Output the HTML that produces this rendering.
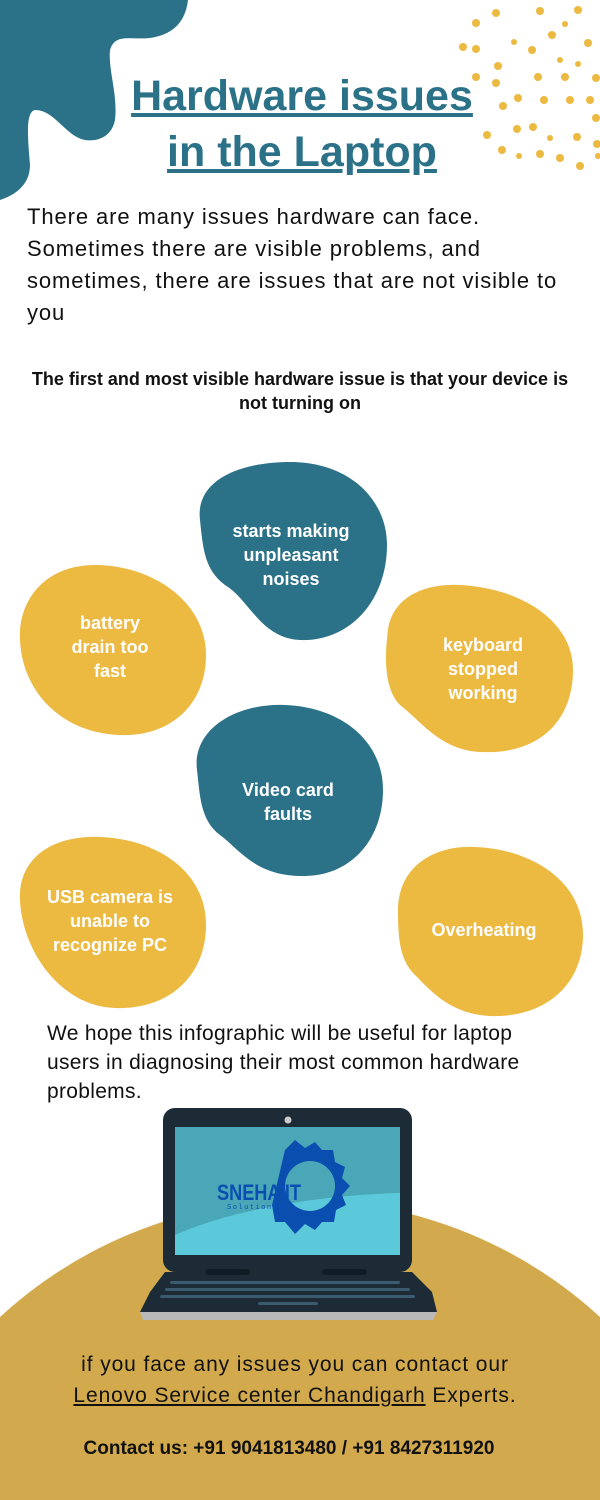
<!DOCTYPE html>
<html><head><meta charset="utf-8"><style>
html,body{margin:0;width:600px;height:1500px;overflow:hidden;background:#fff;font-family:"Liberation Sans",sans-serif;}
body{position:relative}
svg{position:absolute;left:0;top:0}
.t{position:absolute;color:#111;white-space:nowrap}
.b{position:absolute;color:#fff;font-weight:bold;font-size:18px;text-align:center;line-height:24px;width:190px;white-space:nowrap}
</style></head><body>
<svg width="600" height="1500" viewBox="0 0 600 1500">
<path d="M0 0 H188 C185 25 170 35 150 38 C130 40 115 33 110 50 C108 70 118 95 115 120 C112 135 100 142 85 140 C65 136 55 110 35 110 C25 112 28 140 30 165 C30 185 15 195 0 200 Z" fill="#2b7288"/>
<g fill="#ecb941">
<circle cx="476" cy="23" r="4"/><circle cx="496" cy="13" r="4"/><circle cx="540" cy="11" r="4"/><circle cx="578" cy="10" r="4"/><circle cx="565" cy="24" r="3"/>
<circle cx="463" cy="47" r="4"/><circle cx="476" cy="49" r="4"/><circle cx="514" cy="42" r="3"/><circle cx="552" cy="35" r="4"/><circle cx="588" cy="43" r="4"/>
<circle cx="498" cy="66" r="4"/><circle cx="532" cy="50" r="4"/><circle cx="560" cy="60" r="3"/><circle cx="578" cy="64" r="3"/><circle cx="596" cy="78" r="4"/>
<circle cx="476" cy="77" r="4"/><circle cx="496" cy="83" r="4"/><circle cx="538" cy="77" r="4"/><circle cx="565" cy="77" r="4"/><circle cx="590" cy="100" r="4"/>
<circle cx="503" cy="106" r="4"/><circle cx="518" cy="98" r="4"/><circle cx="544" cy="100" r="4"/><circle cx="570" cy="100" r="4"/><circle cx="596" cy="118" r="4"/>
<circle cx="487" cy="135" r="4"/><circle cx="517" cy="129" r="4"/><circle cx="533" cy="127" r="4"/><circle cx="550" cy="138" r="3"/><circle cx="577" cy="137" r="4"/><circle cx="597" cy="144" r="4"/>
<circle cx="502" cy="150" r="4"/><circle cx="519" cy="156" r="3"/><circle cx="540" cy="154" r="4"/><circle cx="560" cy="158" r="4"/><circle cx="580" cy="166" r="4"/><circle cx="598" cy="156" r="3"/>
</g>
<circle cx="300" cy="1643" r="443" fill="#d2aa4d"/>
<path d="M200 520 C195 480 240 462 290 462 C350 462 387 500 387 545 C387 600 350 642 300 640 C260 638 250 600 225 585 C205 570 203 550 200 520Z" fill="#2b7288"/>
<path d="M20 640 C18 600 45 565 95 565 C150 565 206 600 206 655 C206 705 170 737 120 735 C60 733 22 690 20 640Z" fill="#ecb941"/>
<path d="M388 630 C392 600 420 583 460 585 C520 588 573 620 573 670 C573 720 540 755 480 752 C440 750 420 720 400 705 C385 690 384 660 388 630Z" fill="#ecb941"/>
<path d="M197 770 C192 730 235 703 285 705 C340 707 383 740 383 790 C383 840 350 878 300 876 C255 875 240 850 220 835 C200 820 200 795 197 770Z" fill="#2b7288"/>
<path d="M20 900 C18 860 50 835 100 837 C155 839 206 870 206 925 C206 975 170 1010 115 1008 C60 1006 22 950 20 900Z" fill="#ecb941"/>
<path d="M398 910 C398 870 430 845 475 847 C530 849 583 880 583 935 C583 985 545 1018 490 1016 C450 1014 430 990 415 975 C400 960 398 940 398 910Z" fill="#ecb941"/>
<path d="M150 1292 L165 1272 H412 L432 1292 L437 1312 H140 Z" fill="#1c2b36"/>
<path d="M140 1312 H437 L433 1320 H143 Z" fill="#b9b9b9"/>
<g fill="#3a5c6e">
<rect x="170" y="1281" width="230" height="3" rx="1.5"/><rect x="165" y="1288" width="245" height="3" rx="1.5"/><rect x="160" y="1295" width="255" height="3" rx="1.5"/><rect x="258" y="1302" width="60" height="3" rx="1.5"/>
</g>
<rect x="163" y="1108" width="249" height="164" rx="12" fill="#1c2b36"/>
<rect x="205" y="1269" width="45" height="6" rx="3" fill="#111d25"/><rect x="322" y="1269" width="45" height="6" rx="3" fill="#111d25"/>
<circle cx="288" cy="1120" r="3.5" fill="#ccc"/>
<rect x="175" y="1127" width="225" height="128" fill="#4aa7b8"/>
<path d="M175 1235 C230 1210 320 1195 400 1193 V1255 H175Z" fill="#5bc9d9"/>
<path d="M285 1150 L295 1140 L305 1148 L315 1142 L322 1150 L333 1150 L335 1162 L345 1167 L342 1178 L350 1186 L342 1195 L346 1205 L336 1210 L334 1222 L322 1222 L315 1230 L305 1224 L295 1234 L285 1222 L275 1222 L272 1205 Z M310 1161 A25 25 0 1 0 310.1 1161Z" fill="#0a4fb0" fill-rule="evenodd"/>
<text x="217" y="1200" font-family="Liberation Sans, sans-serif" font-weight="bold" font-size="22" fill="#0a4fb0" textLength="84" lengthAdjust="spacingAndGlyphs">SNEHA IT</text>
<text x="227" y="1209" font-family="Liberation Mono,monospace" font-size="7" fill="#0a4fb0" letter-spacing="1.5">Solutions</text>
</svg>
<div class="t" style="left:0;width:600px;top:68px;text-align:center;font-size:43px;font-weight:bold;color:#2b7288;line-height:56px;text-decoration:underline;padding-left:2px"> Hardware issues<br>in the Laptop</div>
<div class="t" style="left:27px;top:201px;font-size:22px;line-height:32px;letter-spacing:0.9px">There are many issues hardware can face.<br>Sometimes there are visible problems, and<br>sometimes, there are issues that are not visible to<br>you</div>
<div class="t" style="left:0;width:600px;top:367px;text-align:center;font-size:18px;font-weight:bold;line-height:24px;letter-spacing:0px">The first and most visible hardware issue is that your device is<br>not turning on</div>
<div class="b" style="left:196px;top:519px">starts making<br>unpleasant<br>noises</div>
<div class="b" style="left:15px;top:611px">battery<br>drain too<br>fast</div>
<div class="b" style="left:388px;top:633px">keyboard<br>stopped<br>working</div>
<div class="b" style="left:193px;top:778px">Video card<br>faults</div>
<div class="b" style="left:15px;top:885px">USB camera is<br>unable to<br>recognize PC</div>
<div class="b" style="left:389px;top:918px">Overheating</div>
<div class="t" style="left:47px;top:1019px;font-size:21px;line-height:29px;letter-spacing:0.3px">We hope this infographic will be useful for laptop<br>users in diagnosing their most common hardware<br>problems.</div>
<div class="t" style="left:0;width:590px;top:1349px;text-align:center;font-size:21px;line-height:31px;letter-spacing:0.9px">if you face any issues you can contact our<br><u>Lenovo Service center Chandigarh</u> Experts.</div>
<div class="t" style="left:0;width:578px;top:1438px;text-align:center;font-size:19px;font-weight:bold">Contact us: +91 9041813480 / +91 8427311920</div>
</body></html>
